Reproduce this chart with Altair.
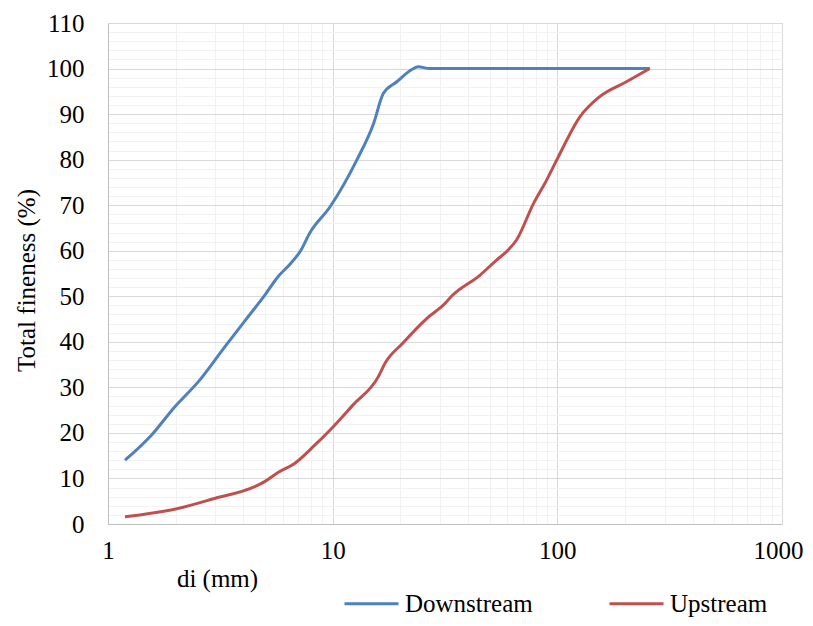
import altair as alt
import pandas as pd

# ---- data ----
downstream_d = [1.19, 1.56, 1.98, 2.52, 3.31, 4.2, 4.98, 5.71, 6.5, 7.2, 7.93, 9.72,
                12.8, 15.2, 16.8, 19.3, 22.5, 24.0, 27.0, 258]
downstream_p = [14.0, 19.5, 25.7, 31.2, 38.9, 45.5, 50.2, 54.3, 57.2, 60.0, 64.0, 69.6,
                79.9, 87.9, 94.5, 97.1, 99.8, 100.4, 100.0, 100.0]

upstream_d = [1.19, 2.05, 2.98, 4.5, 4.98, 5.71, 6.77, 8.32, 9.72, 12.3, 15.95, 17.1,
              20.5, 26.2, 31.6, 33.8, 45.2, 53.5, 60.3, 65.7, 78.4, 89.6, 101, 126,
              154, 203, 258]
upstream_p = [1.6, 3.4, 5.6, 8.2, 9.3, 11.3, 13.3, 17.3, 20.6, 26.1, 32.3, 35.3,
              39.7, 45.1, 48.4, 50.0, 54.6, 57.9, 60.1, 62.3, 70.4, 75.5, 80.6, 89.4,
              93.8, 97.1, 100.0]

series_names = ["Downstream", "Upstream"]
series_colors = ["#4F81BD", "#C0504D"]

x_grid_values = [1, 2, 3, 4, 5, 6, 7, 8, 9,
                 10, 20, 30, 40, 50, 60, 70, 80, 90,
                 100, 200, 300, 400, 500, 600, 700, 800, 900, 1000]
y_grid_values = [0, 2, 4, 6, 8, 10, 12, 14, 16, 18, 20, 22, 24, 26, 28, 30, 32, 34,
                 36, 38, 40, 42, 44, 46, 48, 50, 52, 54, 56, 58, 60, 62, 64, 66, 68,
                 70, 72, 74, 76, 78, 80, 82, 84, 86, 88, 90, 92, 94, 96, 98, 100,
                 102, 104, 106, 108, 110]

rows = []
for i, (d, p) in enumerate(zip(downstream_d, downstream_p)):
    rows.append({"series": series_names[0], "d": d, "p": p, "order": i})
for i, (d, p) in enumerate(zip(upstream_d, upstream_p)):
    rows.append({"series": series_names[1], "d": d, "p": p, "order": i})
df = pd.DataFrame(rows)

FONT = "Liberation Serif"
FS = 25

x_major = "abs(log(datum.value)/LN10 - round(log(datum.value)/LN10)) < 0.001"
y_major = "datum.value % 10 === 0"

chart = alt.Chart(df).mark_line(strokeWidth=3, interpolate="monotone").encode(
    x=alt.X("d:Q",
            scale=alt.Scale(type="log", domain=[1, 1000], nice=False),
            axis=alt.Axis(values=x_grid_values,
                          labelExpr=f"({x_major}) ? datum.label : ''",
                          format="d",
                          gridColor={"condition": {"test": x_major, "value": "#d9d9d9"}, "value": "#f2f2f2"},
                          labelOffset={"condition": {"test": "datum.value >= 1000", "value": -4}, "value": 0},
                          title="di (mm)",
                          titleX=109, titleY=54, titleAlign="center", titleBaseline="middle",
                          labelPadding=14, labelFlush=False, labelOverlap=False)),
    y=alt.Y("p:Q",
            scale=alt.Scale(domain=[0, 110], nice=False),
            axis=alt.Axis(values=y_grid_values,
                          labelExpr=f"({y_major}) ? datum.label : ''",
                          gridColor={"condition": {"test": y_major, "value": "#d9d9d9"}, "value": "#f2f2f2"},
                          title="Total fineness (%)",
                          titleX=-82, titleY=257, titleAngle=270, titleAlign="center",
                          titleBaseline="middle",
                          labelPadding=24, labelOverlap=False)),
    color=alt.Color("series:N",
                    scale=alt.Scale(domain=series_names, range=series_colors),
                    legend=alt.Legend(title=None, orient="none", direction="horizontal",
                                      legendX=235, legendY=552,
                                      symbolType="stroke", symbolSize=2916,
                                      symbolStrokeWidth=3, labelOffset=5,
                                      columnPadding=70, padding=0,
                                      labelFont=FONT, labelFontSize=FS,
                                      labelColor="#000000", labelLimit=400)),
    order="order:Q",
).properties(
    width=674, height=501,
    autosize=alt.AutoSizeParams(type="none"),
    padding={"left": 100, "top": 15, "right": 23, "bottom": 94},
).configure_view(
    stroke=None
).configure_axis(
    labelFont=FONT, labelFontSize=FS, labelColor="#000000",
    titleFont=FONT, titleFontSize=FS, titleColor="#000000", titleFontWeight="normal",
    ticks=False, domainColor="#bfbfbf", domainWidth=1, gridWidth=1,
)

chart.save("out.html", embed_options={"renderer": "svg", "actions": False})
